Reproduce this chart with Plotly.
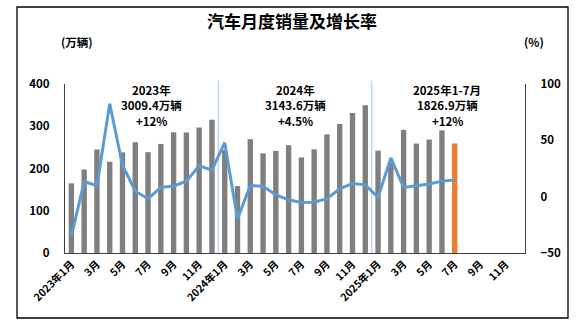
import plotly.graph_objects as go

# Month categories: 2023-01 .. 2025-12
months = [f"{y}-{m:02d}" for y in (2023, 2024, 2025) for m in range(1, 13)]

# Monthly vehicle sales (10k units)
sales_2023 = [164.9, 197.6, 245.1, 215.9, 238.2, 262.2, 238.7, 258.2, 285.8, 285.3, 297.0, 315.6]
sales_2024 = [243.9, 158.4, 269.4, 235.9, 241.7, 255.2, 226.2, 245.3, 280.9, 305.3, 331.6, 349.9]
sales_2025 = [242.3, 212.9, 291.5, 259.0, 268.6, 290.4, 259.3]

# Year-on-year growth (%)
growth_2023 = [-35.0, 13.5, 9.7, 82.5, 27.9, 4.8, -1.8, 8.2, 9.5, 13.8, 27.4, 23.5]
growth_2024 = [47.9, -19.9, 9.9, 9.3, 1.5, -2.7, -5.2, -5.0, -1.7, 7.0, 11.7, 10.5]
growth_2025 = [-0.6, 34.4, 8.2, 9.8, 11.2, 13.8, 14.7]

tick_text = ["2023年1月", "3月", "5月", "7月", "9月", "11月",
             "2024年1月", "3月", "5月", "7月", "9月", "11月",
             "2025年1月", "3月", "5月", "7月", "9月", "11月"]

# yearly summary blocks: (centre category, lines)
year_notes = [
    (6.3, ["2023年", "3009.4万辆", "+12%"]),
    (17.55, ["2024年", "3143.6万辆", "+4.5%"]),
    (29.4, ["2025年1-7月", "1826.9万辆", "+12%"]),
]

sales = sales_2023 + sales_2024 + sales_2025
growth = growth_2023 + growth_2024 + growth_2025
x_idx = list(range(len(sales)))

GRAY = "#7f7f7f"
ORANGE = "#ED7D31"
BLUE = "#5B9BD5"
FONT = "Noto Sans CJK SC"

bar_colors = [GRAY] * (len(sales) - 1) + [ORANGE]

fig = go.Figure()
fig.add_trace(go.Bar(
    x=x_idx, y=sales, marker=dict(color=bar_colors, line=dict(width=0)),
    width=0.42, name="销量",
))
fig.add_trace(go.Scatter(
    x=x_idx, y=growth, yaxis="y2", mode="lines",
    line=dict(color=BLUE, width=3), name="增长率",
))

# plot area geometry in pixels (for the frame around the chart)
L, R, T, B = 65, 55, 84, 76
W, H = 580, 329
pw, ph = W - L - R, H - T - B

def px_x(x):
    return (x - L) / pw

def px_y(y):
    return (H - B - y) / ph

shapes = [
    dict(type="rect", xref="paper", yref="paper",
         x0=px_x(17), x1=px_x(568), y0=px_y(318), y1=px_y(7),
         line=dict(color="black", width=1.3), fillcolor="rgba(0,0,0,0)", layer="below"),
]
for xs in (11.5, 23.5):
    shapes.append(dict(type="line", xref="x", yref="paper", x0=xs, x1=xs, y0=0, y1=1.02,
                       line=dict(color="#BDD7EE", width=1.5), layer="below"))

annotations = [
    dict(text="<b>汽车月度销量及增长率</b>", xref="paper", yref="paper",
         x=px_x(292), y=px_y(20), showarrow=False,
         font=dict(family=FONT, size=17, color="black"), xanchor="center", yanchor="middle"),
    dict(text="<b>(万辆)</b>", xref="paper", yref="paper",
         x=px_x(77), y=px_y(42), showarrow=False,
         font=dict(family=FONT, size=11.5, color="black"), xanchor="center", yanchor="middle"),
    dict(text="<b>(%)</b>", xref="paper", yref="paper",
         x=px_x(534), y=px_y(42), showarrow=False,
         font=dict(family=FONT, size=11.5, color="black"), xanchor="center", yanchor="middle"),
]
line_y = [89.5, 105, 120.5]
for xc, lines in year_notes:
    for yy, txt in zip(line_y, lines):
        annotations.append(dict(
            text=f"<b>{txt}</b>", x=xc, xref="x", y=px_y(yy), yref="paper",
            showarrow=False, font=dict(family=FONT, size=11.5, color="black"),
            xanchor="center", yanchor="middle", align="center", borderpad=0,
        ))

fig.update_layout(
    width=W, height=H,
    margin=dict(l=L, r=R, t=T, b=B),
    paper_bgcolor="white", plot_bgcolor="white",
    showlegend=False,
    font=dict(family=FONT, color="black"),
    xaxis=dict(
        range=[-0.5, 35.5], tickmode="array",
        tickvals=list(range(0, 36, 2)), ticktext=[f"<b>{t}</b>" for t in tick_text],
        tickangle=-45, tickfont=dict(size=10.5, family=FONT),
        showline=True, linecolor="#404040", linewidth=1.2,
        showgrid=False, zeroline=False, ticks="",
        automargin=False,
    ),
    yaxis=dict(
        range=[0, 400], dtick=100, showgrid=False, zeroline=False,
        showline=True, linecolor="#404040", linewidth=1.2,
        tickfont=dict(size=11.5, family=FONT), tickprefix="<b>", ticksuffix="</b>",
        ticks="", ticklabelstandoff=12, automargin=False,
    ),
    yaxis2=dict(
        range=[-50, 100], dtick=50, overlaying="y", side="right",
        showgrid=False, zeroline=False,
        showline=True, linecolor="#404040", linewidth=1.2,
        tickfont=dict(size=11.5, family=FONT), tickprefix="<b>", ticksuffix="</b>",
        ticks="", ticklabelstandoff=12, automargin=False,
    ),
    shapes=shapes,
    annotations=annotations,
    bargap=0.6,
)

fig.write_html("out.html")
